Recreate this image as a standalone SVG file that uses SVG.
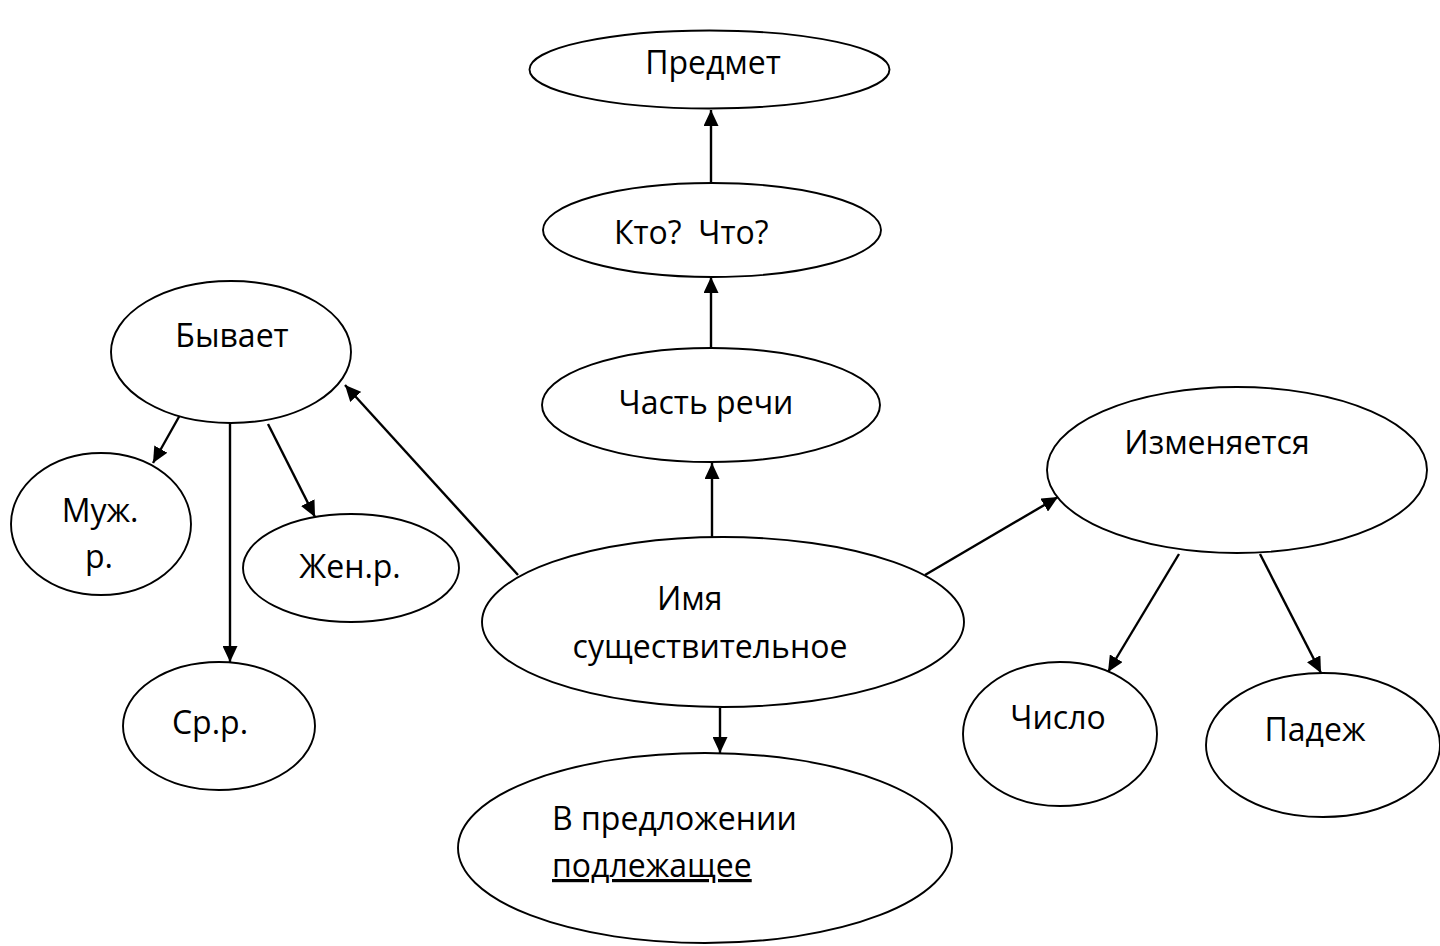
<svg xmlns="http://www.w3.org/2000/svg" width="1440" height="946" viewBox="0 0 1440 946">
<defs>
<style>
.n{fill:#fff;stroke:#000;stroke-width:1.9}
.t{font-family:"Open Sans","Liberation Sans",sans-serif;font-size:32px;fill:#000}
.c{stroke:#000;stroke-width:2.4;fill:none}
</style>
<marker id="ah" markerUnits="userSpaceOnUse" markerWidth="17" markerHeight="15" refX="16" refY="7.5" orient="auto">
<path d="M0,0 L16,7.5 L0,15 z" fill="#000"/>
</marker>
</defs>
<rect width="1440" height="946" fill="#fff"/>
<g id="connectors">
<line class="c" x1="711" y1="183" x2="711" y2="110" marker-end="url(#ah)"/>
<line class="c" x1="711" y1="348" x2="711" y2="277" marker-end="url(#ah)"/>
<line class="c" x1="712" y1="537" x2="712" y2="463" marker-end="url(#ah)"/>
<line class="c" x1="720" y1="708" x2="720" y2="753" marker-end="url(#ah)"/>
<line class="c" x1="518" y1="575" x2="345" y2="385" marker-end="url(#ah)"/>
<line class="c" x1="180" y1="415" x2="153" y2="463" marker-end="url(#ah)"/>
<line class="c" x1="230" y1="423" x2="230" y2="662" marker-end="url(#ah)"/>
<line class="c" x1="268" y1="424" x2="315" y2="517" marker-end="url(#ah)"/>
<line class="c" x1="925" y1="575" x2="1058" y2="497" marker-end="url(#ah)"/>
<line class="c" x1="1179" y1="554" x2="1108" y2="672" marker-end="url(#ah)"/>
<line class="c" x1="1260" y1="554" x2="1321" y2="673" marker-end="url(#ah)"/>
</g>
<g id="predmet">
<ellipse class="n" cx="709.5" cy="69.5" rx="180" ry="39"/>
<text class="t" x="713" y="74" text-anchor="middle">Предмет</text>
</g>
<g id="kto">
<ellipse class="n" cx="712" cy="230" rx="169" ry="47"/>
<text class="t" x="614" y="244" xml:space="preserve">Кто?  Что?</text>
</g>
<g id="chast">
<ellipse class="n" cx="711" cy="405" rx="169" ry="57"/>
<text class="t" x="706" y="414" text-anchor="middle">Часть речи</text>
</g>
<g id="imya">
<ellipse class="n" cx="723" cy="622" rx="241" ry="85"/>
<text class="t" x="657" y="610">Имя</text>
<text class="t" x="710" y="658" text-anchor="middle">существительное</text>
</g>
<g id="vpredl">
<ellipse class="n" cx="705" cy="848" rx="247" ry="95"/>
<text class="t" x="552" y="830">В предложении</text>
<text class="t" x="552" y="877" text-decoration="underline">подлежащее</text>
</g>
<g id="byvaet">
<ellipse class="n" cx="231" cy="352" rx="120" ry="71"/>
<text class="t" x="232" y="347" text-anchor="middle">Бывает</text>
</g>
<g id="muzh">
<ellipse class="n" cx="101" cy="524" rx="90" ry="71"/>
<text class="t" x="100" y="522" text-anchor="middle">Муж.</text>
<text class="t" x="99" y="568" text-anchor="middle">р.</text>
</g>
<g id="zhen">
<ellipse class="n" cx="351" cy="568" rx="108" ry="54"/>
<text class="t" x="350" y="578" text-anchor="middle">Жен.р.</text>
</g>
<g id="sr">
<ellipse class="n" cx="219" cy="726" rx="96" ry="64"/>
<text class="t" x="210" y="734" text-anchor="middle">Ср.р.</text>
</g>
<g id="izm">
<ellipse class="n" cx="1237" cy="470" rx="190" ry="83"/>
<text class="t" x="1217" y="454" text-anchor="middle">Изменяется</text>
</g>
<g id="chislo">
<ellipse class="n" cx="1060" cy="734" rx="97" ry="72"/>
<text class="t" x="1058" y="729" text-anchor="middle">Число</text>
</g>
<g id="padezh">
<ellipse class="n" cx="1323" cy="745" rx="117" ry="72"/>
<text class="t" x="1315" y="741" text-anchor="middle">Падеж</text>
</g>
</svg>
